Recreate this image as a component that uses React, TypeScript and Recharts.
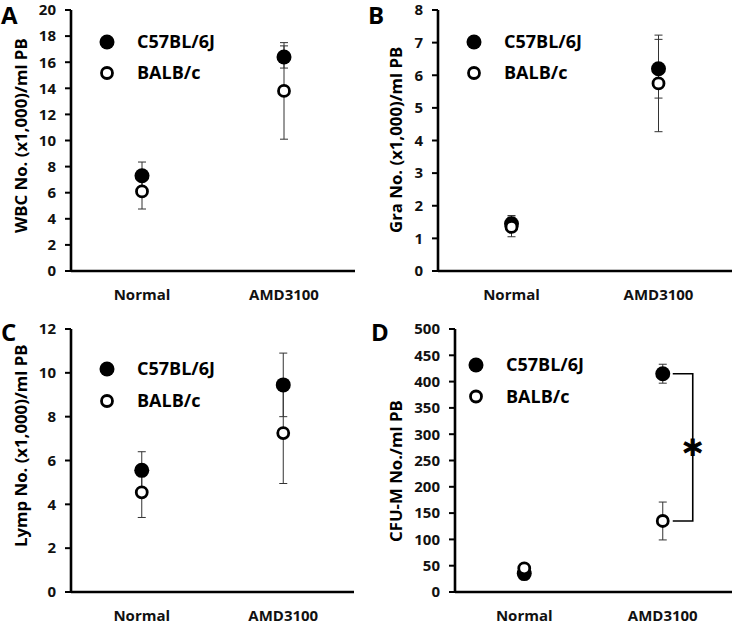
import React from 'react';
import { ScatterChart, Scatter, XAxis, YAxis, ErrorBar, ReferenceLine, Legend, Label } from 'recharts';

const categories = ['Normal', 'AMD3100'];
const seriesNames = ['C57BL/6J', 'BALB/c'];

// Panel A: WBC
const wbcC57 = [7.3, 16.4];
const wbcC57Err = [1.05, 0.85];
const wbcBalb = [6.1, 13.8];
const wbcBalbErr = [1.35, 3.7];
const wbcTicks = [0, 2, 4, 6, 8, 10, 12, 14, 16, 18, 20];

// Panel B: Gra
const graC57 = [1.45, 6.2];
const graC57Err = [0.25, 0.9];
const graBalb = [1.35, 5.75];
const graBalbErr = [0.3, 1.48];
const graTicks = [0, 1, 2, 3, 4, 5, 6, 7, 8];

// Panel C: Lymp
const lympC57 = [5.55, 9.45];
const lympC57Err = [0.85, 1.45];
const lympBalb = [4.55, 7.25];
const lympBalbErr = [1.15, 2.3];
const lympTicks = [0, 2, 4, 6, 8, 10, 12];

// Panel D: CFU-M
const cfuC57 = [35, 415];
const cfuC57Err = [5, 18];
const cfuBalb = [45, 135];
const cfuBalbErr = [5, 36];
const cfuTicks = [0, 50, 100, 150, 200, 250, 300, 350, 400, 450, 500];

const FONT = "'Open Sans', 'Noto Sans', sans-serif";

const build = (vals: number[], errs: number[]) =>
  vals.map((v, i) => ({ x: i * 2 + 1, y: v, err: errs[i], cat: categories[i] }));

const FilledDot = (p: any) => <circle cx={p.cx} cy={p.cy} r={7.5} fill="#000" />;
const HollowDot = (p: any) => (
  <circle cx={p.cx} cy={p.cy} r={5.5} fill="#fff" stroke="#000" strokeWidth={2.8} />
);

const LegendBox = ({ rowGap }: { rowGap: number }) => (
  <svg width={190} height={30 + rowGap} style={{ display: 'block', overflow: 'visible' }}>
    <circle cx={12} cy={15} r={7.5} fill="#000" />
    <text x={42} y={15} dy="0.36em" fontFamily={FONT} fontWeight={700} fontSize={18} fill="#000">
      {seriesNames[0]}
    </text>
    <circle cx={12} cy={15 + rowGap} r={5.5} fill="#fff" stroke="#000" strokeWidth={2.8} />
    <text x={42} y={15 + rowGap} dy="0.36em" fontFamily={FONT} fontWeight={700} fontSize={18} fill="#000">
      {seriesNames[1]}
    </text>
  </svg>
);

const Bracket = (p: any) => {
  const { x1, y1, y2 } = p;
  const xr = x1 + 30;
  const mid = (y1 + y2) / 2;
  return (
    <g>
      <path d={`M${x1 + 10},${y1} H${xr} V${y2} H${x1 + 10}`} fill="none" stroke="#000" strokeWidth={1.6} />
      <text
        x={xr}
        y={mid + 18}
        textAnchor="middle"
        fontFamily="'DejaVu Sans', sans-serif"
        fontWeight={700}
        fontSize={36}
        fill="#000"
        stroke="#000"
        strokeWidth={1}
      >
        *
      </text>
    </g>
  );
};

type PanelProps = {
  left: number;
  top: number;
  letter: string;
  letterPos: [number, number];
  yLabel: string;
  yLabelX: number;
  yLabelBottom: number;
  ticks: number[];
  c57: any[];
  balb: any[];
  margin: any;
  yWidth: number;
  xHeight: number;
  legendPos: [number, number];
  rowGap: number;
  bracket?: boolean;
};

const Panel = (pp: PanelProps) => {
  const max = pp.ticks[pp.ticks.length - 1];
  return (
    <div style={{ position: 'absolute', left: pp.left, top: pp.top, width: 367, height: 312 }}>
      <ScatterChart width={367} height={312} margin={pp.margin}>
        <XAxis
          type="number"
          dataKey="x"
          domain={[0, 4]}
          ticks={[1, 3]}
          tickFormatter={(v: number) => categories[(v - 1) / 2]}
          tickLine={false}
          tickSize={0}
          tickMargin={18}
          height={pp.xHeight}
          axisLine={{ stroke: '#000', strokeWidth: 2.6 }}
          tick={{ fill: '#111', fontFamily: FONT, fontWeight: 700, fontSize: 15 }}
          interval={0}
        />
        <YAxis
          type="number"
          dataKey="y"
          domain={[0, max]}
          ticks={pp.ticks}
          width={pp.yWidth}
          tickSize={6}
          tickMargin={9}
          axisLine={{ stroke: '#000', strokeWidth: 2.6 }}
          tickLine={{ stroke: '#000', strokeWidth: 2 }}
          tick={{ fill: '#111', fontFamily: FONT, fontWeight: 700, fontSize: 15 }}
          interval={0}
        >
          <Label
            content={() => (
              <text
                x={pp.yLabelX}
                y={pp.yLabelBottom}
                transform={`rotate(-90 ${pp.yLabelX} ${pp.yLabelBottom})`}
                textAnchor="start"
                fontFamily={FONT}
                fontWeight={700}
                fontSize={16.8}
                fill="#000"
              >
                {pp.yLabel}
              </text>
            )}
          />
        </YAxis>
        <Legend
          layout="horizontal"
          verticalAlign="middle"
          align="center"
          wrapperStyle={{ left: pp.legendPos[0], top: pp.legendPos[1], width: 190 }}
          content={() => <LegendBox rowGap={pp.rowGap} />}
        />
        <Scatter name={seriesNames[0]} data={pp.c57} shape={FilledDot} isAnimationActive={false}>
          <ErrorBar dataKey="err" direction="y" width={4} strokeWidth={1} stroke="#333" />
        </Scatter>
        <Scatter name={seriesNames[1]} data={pp.balb} shape={HollowDot} isAnimationActive={false}>
          <ErrorBar dataKey="err" direction="y" width={4} strokeWidth={1} stroke="#333" />
        </Scatter>
        {pp.bracket && (
          <ReferenceLine
            segment={[
              { x: pp.c57[1].x, y: pp.c57[1].y },
              { x: pp.balb[1].x, y: pp.balb[1].y },
            ]}
            ifOverflow="visible"
            shape={Bracket}
          />
        )}
      </ScatterChart>
      <div
        style={{
          position: 'absolute',
          left: pp.letterPos[0],
          top: pp.letterPos[1],
          fontFamily: FONT,
          fontWeight: 700,
          fontSize: 24,
          lineHeight: '28px',
          color: '#000',
        }}
      >
        {pp.letter}
      </div>
    </div>
  );
};

export default function App() {
  return (
    <div style={{ position: 'absolute', left: 0, top: 0, width: 734, height: 624, background: '#fff', overflow: 'hidden' }}>
      <Panel
        left={0}
        top={0}
        letter="A"
        letterPos={[1, 1]}
        yLabel="WBC No. (x1,000)/ml PB"
        yLabelX={27}
        yLabelBottom={233}
        ticks={wbcTicks}
        c57={build(wbcC57, wbcC57Err)}
        balb={build(wbcBalb, wbcBalbErr)}
        margin={{ top: 10, right: 12, bottom: 0, left: 0 }}
        yWidth={71}
        xHeight={41}
        legendPos={[95, 27]}
        rowGap={31}
      />
      <Panel
        left={367}
        top={0}
        letter="B"
        letterPos={[1, 1]}
        yLabel="Gra No. (x1,000)/ml PB"
        yLabelX={35}
        yLabelBottom={233}
        ticks={graTicks}
        c57={build(graC57, graC57Err)}
        balb={build(graBalb, graBalbErr)}
        margin={{ top: 10, right: 2, bottom: 0, left: 0 }}
        yWidth={71}
        xHeight={41}
        legendPos={[95, 27]}
        rowGap={31}
      />
      <Panel
        left={0}
        top={312}
        letter="C"
        letterPos={[1, 318 - 312]}
        yLabel="Lymp No. (x1,000)/ml PB"
        yLabelX={27}
        yLabelBottom={235}
        ticks={lympTicks}
        c57={build(lympC57, lympC57Err)}
        balb={build(lympBalb, lympBalbErr)}
        margin={{ top: 17, right: 13, bottom: 0, left: 0 }}
        yWidth={71}
        xHeight={32}
        legendPos={[95, 42]}
        rowGap={32}
      />
      <Panel
        left={367}
        top={312}
        letter="D"
        letterPos={[4, 318 - 312]}
        yLabel="CFU-M No./ml PB"
        yLabelX={35}
        yLabelBottom={230}
        ticks={cfuTicks}
        c57={build(cfuC57, cfuC57Err)}
        balb={build(cfuBalb, cfuBalbErr)}
        margin={{ top: 17, right: 2, bottom: 0, left: 0 }}
        yWidth={88}
        xHeight={32}
        legendPos={[97, 38]}
        rowGap={31.5}
        bracket
      />
    </div>
  );
}
